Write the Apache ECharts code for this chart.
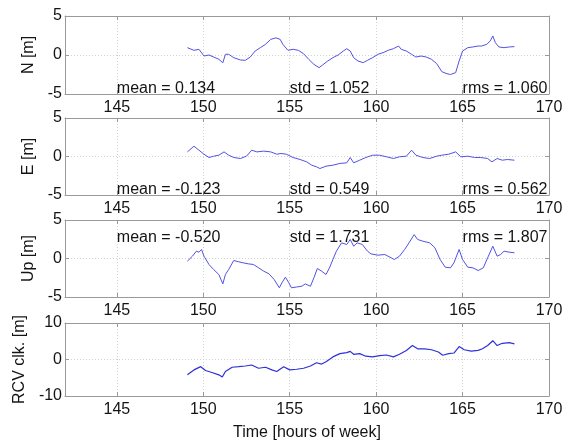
<!DOCTYPE html>
<html>
<head>
<meta charset="utf-8">
<script src="https://cdn.jsdelivr.net/npm/echarts@6/dist/echarts.min.js"></script>
<style>
  html, body { margin: 0; padding: 0; background: #fff; }
  #chart { width: 571px; height: 442px; }
</style>
</head>
<body>
<div id="chart"></div>
<script>
// Shared time axis ticks (hours of week)
const tickHours = [145, 150, 155, 160, 165, 170];
const statHours = [145, 155, 165];

// North error [m]
const hoursN = [149.08,149.46,149.75,150.04,150.33,150.6,150.9,151.13,151.28,151.47,151.76,152.15,152.43,152.72,153.0,153.3,153.6,153.9,154.2,154.45,154.6,154.9,155.2,155.5,155.8,156.1,156.4,156.7,156.9,157.2,157.5,157.8,158.1,158.3,158.5,158.7,158.95,159.25,159.5,159.8,160.1,160.4,160.7,161.0,161.3,161.45,161.75,162.05,162.3,162.6,162.9,163.2,163.5,163.8,164.1,164.3,164.6,164.8,165.0,165.3,165.6,165.9,166.1,166.4,166.6,166.75,166.9,167.1,167.4,167.7,168.0];
const northM = [0.94,0.6,0.73,-0.13,0,-0.26,-0.55,-1.0,0.09,0.09,-0.34,-0.64,-0.68,-0.26,0.51,0.94,1.37,2.0,2.2,2.0,1.37,0.6,0.73,0.6,0.17,-0.55,-1.2,-1.62,-1.28,-0.77,-0.34,0,0.51,0.81,0.51,-0.34,-0.77,-0.98,-0.68,-0.34,0.09,0.3,0.6,0.81,1.15,0.73,0.51,0.09,-0.26,-0.13,-0.26,-0.55,-1.1,-2.14,-2.4,-2.5,-2.26,-0.77,0.51,0.94,1.03,1.15,1.15,1.37,1.8,2.44,1.58,1.03,0.94,1.03,1.07];
const statsN = ['mean = 0.134', 'std = 1.052', 'rms = 1.060'];

// East error [m]
const hoursE = [149.08,149.46,149.75,150.04,150.33,150.6,150.9,151.2,151.47,151.76,152.15,152.5,152.8,153.1,153.5,153.9,154.25,154.5,154.8,155.2,155.6,155.98,156.27,156.55,156.75,157.1,157.5,157.9,158.3,158.5,158.7,159.05,159.4,159.8,160.2,160.6,161.0,161.35,161.75,162.05,162.3,162.7,163.1,163.5,163.8,164.2,164.6,164.9,165.3,165.7,166.05,166.45,166.7,167.0,167.3,167.6,168.0];
const eastM = [0.6,1.34,0.82,0.3,-0.13,0.04,0.17,0.6,0.17,-0.13,-0.26,0.04,0.82,0.6,0.7,0.6,0.3,0.39,0.3,-0.13,-0.39,-0.69,-1.13,-1.34,-1.56,-1.26,-1.13,-0.9,-0.82,-0.13,-0.82,-0.48,-0.13,0.17,0.17,-0.04,-0.26,-0.04,0.04,0.82,0.17,-0.13,-0.26,0.04,0.17,0.3,0.6,-0.04,0.04,-0.13,-0.13,-0.26,-0.69,-0.26,-0.48,-0.39,-0.48];
const statsE = ['mean = -0.123', 'std = 0.549', 'rms = 0.562'];

// Up error [m]
const hoursU = [149.08,149.37,149.6,149.75,149.9,150.04,150.33,150.6,150.9,151.13,151.28,151.47,151.76,152.05,152.3,152.6,152.9,153.2,153.5,153.8,154.1,154.4,154.55,154.75,154.95,155.1,155.4,155.7,155.9,156.2,156.4,156.6,156.85,157.1,157.3,157.5,157.7,158.0,158.3,158.5,158.7,158.9,159.2,159.5,159.7,160.1,160.5,160.8,161.05,161.35,161.65,161.9,162.2,162.4,162.7,163.1,163.4,163.7,164.0,164.3,164.5,164.8,165.0,165.3,165.6,165.9,166.2,166.45,166.75,167.0,167.2,167.4,167.7,168.0];
const upM = [-0.35,0.3,0.95,0.82,1.17,0.3,-0.78,-1.43,-2.08,-3.3,-2.08,-1.43,-0.26,-0.43,-0.56,-0.69,-0.78,-1.21,-1.65,-1.99,-2.73,-3.8,-3.16,-2.42,-3.16,-3.8,-3.7,-3.6,-3.3,-3.6,-2.5,-1.3,-1.65,-2.08,-1.21,-0.13,0.95,2.03,1.82,2.47,1.6,2.03,1.82,0.95,0.6,0.43,0.52,0.17,-0.13,0.3,1.17,2.03,3.1,2.47,2.25,2.03,1.39,-0.13,-1.13,-1.21,-0.56,1.17,-0.13,-1.13,-1.21,-1.56,-1.21,0.09,1.6,0.3,0.52,0.95,0.82,0.74];
const statsU = ['mean = -0.520', 'std = 1.731', 'rms = 1.807'];

// Receiver clock [m]
const hoursC = [149.08,149.46,149.85,150.13,150.5,150.9,151.1,151.28,151.67,152.05,152.43,152.8,153.2,153.6,153.97,154.25,154.65,155.0,155.4,155.8,156.2,156.55,156.85,157.1,157.5,157.9,158.3,158.5,158.7,159.05,159.4,159.8,160.2,160.6,161.0,161.35,161.75,162.1,162.4,162.8,163.2,163.6,163.85,164.2,164.5,164.8,165.1,165.5,165.9,166.15,166.45,166.75,167.0,167.3,167.7,168.0];
const clockM = [-4.2,-2.85,-1.96,-3.0,-3.55,-4.2,-4.8,-3.3,-2.13,-1.96,-1.78,-1.5,-2.4,-2.13,-2.85,-3.3,-1.96,-2.85,-2.67,-2.4,-1.78,-0.9,-1.25,-0.62,0.71,1.6,1.87,2.22,1.42,1.6,0.9,0.71,1.07,1.24,0.71,1.42,2.49,3.82,2.93,2.93,2.67,2.04,1.16,1.6,1.78,3.55,2.67,2.31,2.49,2.93,3.82,5.15,3.82,4.44,4.62,4.27];

const FONT = '"Liberation Sans", Arial, Helvetica, sans-serif';
const FS = 16;
const FRAME = '#9a9a9a';
const TEXT = '#141414';

const panels = [
  { title: 'N [m]', hours: hoursN, values: northM, stats: statsN, lim: 5, top: 16, height: 78, gap: 23, statY: -5, statAlign: 'bottom', color: '#5252e2', width: 1 },
  { title: 'E [m]', hours: hoursE, values: eastM, stats: statsE, lim: 5, top: 118, height: 77, gap: 23, statY: -5, statAlign: 'bottom', color: '#5252e2', width: 1 },
  { title: 'Up [m]', hours: hoursU, values: upM, stats: statsU, lim: 5, top: 220, height: 77, gap: 23, statY: 2.7, statAlign: 'middle', color: '#5252e2', width: 1 },
  { title: 'RCV clk. [m]', hours: hoursC, values: clockM, stats: null, lim: 10, top: 323, height: 75, gap: 32, statY: 0, statAlign: 'middle', color: '#3030d8', width: 1.2 }
];

const grid = [], xAxis = [], yAxis = [], series = [];

panels.forEach((p, i) => {
  grid.push({ left: 65, right: 22, top: p.top, height: p.height });

  const xBase = {
    gridIndex: i, type: 'value', min: 142, max: 170,
    axisLine: { show: true, onZero: false, lineStyle: { color: FRAME, width: 1 } },
    axisTick: { show: true, inside: true, length: 4, customValues: tickHours, lineStyle: { color: FRAME } }
  };
  // bottom time axis with labels and dotted grid
  xAxis.push(Object.assign({}, xBase, {
    position: 'bottom',
    axisLabel: { show: true, customValues: tickHours, margin: 6, color: TEXT, fontSize: FS, fontFamily: FONT },
    splitLine: { show: true, lineStyle: { color: '#d2d2d2', type: [1, 2], width: 1 } },
    name: i === 3 ? 'Time [hours of week]' : '',
    nameLocation: 'middle', nameGap: 29,
    nameTextStyle: { color: TEXT, fontSize: FS, fontFamily: FONT }
  }));
  // top frame edge with inward ticks
  xAxis.push(Object.assign({}, xBase, {
    position: 'top', axisLabel: { show: false }, splitLine: { show: false }
  }));

  const yBase = {
    gridIndex: i, type: 'value', min: -p.lim, max: p.lim, interval: p.lim,
    axisLine: { show: true, onZero: false, lineStyle: { color: FRAME, width: 1 } },
    axisTick: { show: true, inside: true, length: 4, lineStyle: { color: FRAME } }
  };
  yAxis.push(Object.assign({}, yBase, {
    position: 'left',
    axisLabel: { show: true, margin: 3, color: TEXT, fontSize: FS, fontFamily: FONT },
    splitLine: { show: true, lineStyle: { color: '#d2d2d2', type: [1, 2], width: 1 } },
    name: p.title, nameLocation: 'middle', nameGap: p.gap, nameRotate: 90,
    nameTextStyle: { color: TEXT, fontSize: FS, fontFamily: FONT }
  }));
  yAxis.push(Object.assign({}, yBase, {
    position: 'right', axisLabel: { show: false }, splitLine: { show: false }
  }));

  const s = {
    type: 'line', xAxisIndex: i * 2, yAxisIndex: i * 2,
    data: p.hours.map((h, k) => [h, p.values[k]]),
    showSymbol: false, symbol: 'none',
    lineStyle: { color: p.color, width: p.width },
    silent: true, z: 3
  };
  if (p.stats) {
    s.markPoint = {
      symbol: 'circle', symbolSize: 0, silent: true, animation: false,
      data: p.stats.map((txt, k) => ({
        coord: [statHours[k], p.statY],
        label: {
          show: true, formatter: txt, position: [0, 0],
          align: 'left', verticalAlign: p.statAlign,
          offset: [0, p.statAlign === 'bottom' ? 3 : 0],
          color: TEXT, fontSize: FS, fontFamily: FONT
        }
      }))
    };
  }
  series.push(s);
});

const chart = echarts.init(document.getElementById('chart'), null, { renderer: 'canvas' });
chart.setOption({
  animation: false,
  backgroundColor: '#fff',
  grid, xAxis, yAxis, series
});
</script>
</body>
</html>
